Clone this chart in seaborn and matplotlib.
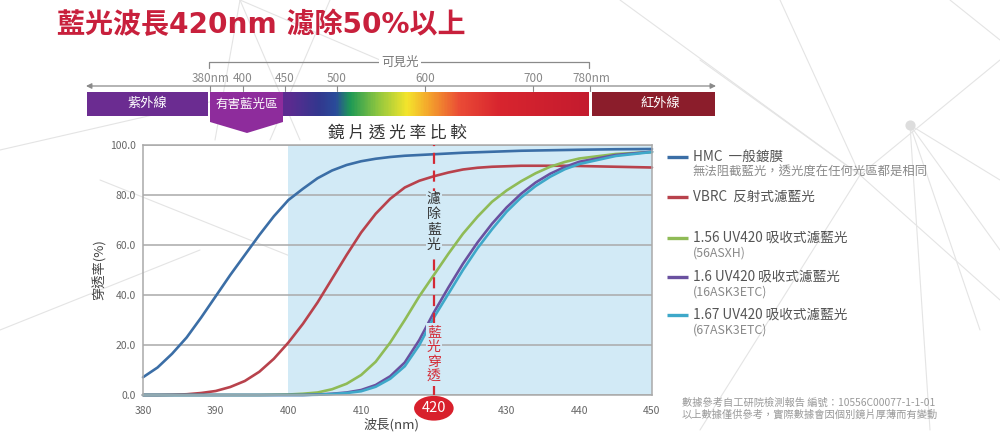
import numpy as np
import pandas as pd
import matplotlib
matplotlib.use("Agg")
import matplotlib.pyplot as plt
import seaborn as sns
from matplotlib.colors import LinearSegmentedColormap
from matplotlib.patches import Polygon

# ---------------- data ----------------
wavelength = [380, 382, 384, 386, 388, 390, 392, 394, 396, 398, 400, 402, 404, 406, 408,
              410, 412, 414, 416, 418, 420, 422, 424, 426, 428, 430, 432, 434, 436, 438,
              440, 445, 450]
hmc = [7.1, 11, 16.5, 23, 31, 39.5, 48, 56, 64, 71.5, 78, 82.5, 86.7, 89.8, 92,
       93.5, 94.5, 95.2, 95.7, 96, 96.3, 96.6, 96.9, 97.1, 97.3, 97.5, 97.7, 97.8, 97.9, 98.0,
       98.1, 98.3, 98.4]
vbrc = [0, 0, 0.1, 0.3, 0.8, 1.6, 3.2, 5.6, 9.3, 14.5, 21, 28.5, 37, 46.5, 56,
        65, 72.5, 78.5, 83, 85.7, 87.5, 89, 90.2, 90.9, 91.3, 91.5, 91.7, 91.7, 91.7, 91.7,
        91.6, 91.3, 91.0]
uv156 = [0, 0, 0, 0, 0, 0, 0, 0, 0, 0.1, 0.2, 0.5, 1, 2.3, 4.5,
         8, 13.3, 21, 30, 39.5, 48, 56.5, 64.5, 71.3, 77.3, 81.8, 85.5, 88.7, 91.3, 93.2,
         94.6, 96.4, 97.2]
uv160 = [0, 0, 0, 0, 0, 0, 0, 0, 0, 0, 0, 0, 0.2, 0.5, 1,
         2, 4, 7.5, 13, 22, 33, 43, 52.5, 61, 68.5, 75, 80.5, 85, 88.5, 91.2,
         93.3, 96, 97.3]
uv167 = [0, 0, 0, 0, 0, 0, 0, 0, 0, 0, 0, 0, 0.1, 0.4, 0.8,
         1.5, 3.3, 6.5, 11.5, 20, 31, 40.5, 50, 58.7, 66.3, 73.3, 79, 83.6, 87.3, 90.3,
         92.4, 95.6, 97.2]

series_names = ["HMC", "VBRC", "UV156", "UV160", "UV167"]
series_values = [hmc, vbrc, uv156, uv160, uv167]
series_colors = ["#3b6ea6", "#b8424c", "#8fbb56", "#6a51a0", "#3ea8c9"]

legend_main = ["HMC  一般鍍膜", "VBRC  反射式濾藍光", "1.56 UV420 吸收式濾藍光",
               "1.6 UV420 吸收式濾藍光", "1.67 UV420 吸收式濾藍光"]
legend_sub = ["無法阻截藍光，透光度在任何光區都是相同", "", "(56ASXH)", "(16ASK3ETC)", "(67ASK3ETC)"]

x_ticks = [380, 390, 400, 410, 420, 430, 440, 450]
y_ticks = [0, 20, 40, 60, 80, 100]

spec_labels = ["380nm", "400", "450", "500", "600", "700", "780nm"]

footer = ["數據參考自工研院檢測報告 編號：10556C00077-1-1-01",
          "以上數據僅供參考，實際數據會因個別鏡片厚薄而有變動"]

# ---------------- style ----------------
sns.set_style("white")
plt.rcParams['font.family'] = ['Noto Sans CJK TC', 'DejaVu Sans']

W, H = 1000, 432
fig = plt.figure(figsize=(W / 100, H / 100), dpi=100)
fig.patch.set_facecolor("white")

# overlay axes in pixel coordinates for decorations
ov = fig.add_axes([0, 0, 1, 1], zorder=0)
ov.set_xlim(0, W)
ov.set_ylim(H, 0)
ov.axis("off")

# faint background network lines
bg_lines = [((240, 0), (215, 140)), ((240, 0), (300, 140)), ((240, 0), (380, 60)),
            ((0, 150), (240, 95)), ((330, 0), (270, 140)), ((620, 0), (860, 175)),
            ((700, 60), (860, 175)), ((860, 175), (1000, 60)), ((860, 175), (700, 430)),
            ((860, 175), (1000, 300)), ((910, 125), (1000, 180)), ((910, 125), (980, 330)),
            ((910, 125), (930, 430)), ((910, 125), (1000, 250)), ((780, 0), (860, 175)),
            ((0, 330), (200, 250)), ((100, 180), (300, 260)), ((950, 0), (1000, 40))]
for (p, q) in bg_lines:
    ov.plot([p[0], q[0]], [p[1], q[1]], color="#e4e4e4", lw=0.8, zorder=0)
ov.scatter([910], [125], s=40, color="#dddddd", zorder=0)

# main title
ov.text(57, 25, "藍光波長420nm 濾除50%以上", color="#c8203c", fontsize=20.2,
        fontweight="bold", ha="left", va="center",
        family=["DejaVu Sans", "Noto Sans CJK TC"])

# spectrum bar
bar_top, bar_bot = 92, 116
ov.fill_between([87, 208], bar_top, bar_bot, color="#6b2c91", lw=0, zorder=2)
ov.fill_between([592, 715], bar_top, bar_bot, color="#8b1d2b", lw=0, zorder=2)
spec_cmap = LinearSegmentedColormap.from_list("spec", [
    (0.0, "#6a2a90"), (0.21, "#5b2b90"), (0.285, "#33378e"), (0.33, "#2a4b9a"),
    (0.37, "#1f9a55"), (0.44, "#8cc540"), (0.52, "#f4e52c"), (0.58, "#f4a22c"),
    (0.66, "#ea4b36"), (0.765, "#d8252f"), (1.0, "#c41b2e")])
ov.imshow(np.linspace(0, 1, 400)[None, :], cmap=spec_cmap, aspect="auto",
          extent=(210, 589, bar_bot, bar_top), zorder=2)
ov.set_xlim(0, W)
ov.set_ylim(H, 0)

ov.text(147, 104, "紫外線", color="white", fontsize=9.5, ha="center", va="center", zorder=3)
ov.text(660, 104, "紅外線", color="white", fontsize=9.5, ha="center", va="center", zorder=3)

# callout
ov.add_patch(Polygon([(210, 92), (283, 92), (283, 122), (247, 133), (210, 122)],
                     closed=True, fc="#8e2c9c", ec="none", zorder=4))
ov.text(247, 104, "有害藍光區", color="white", fontsize=9, ha="center", va="center", zorder=5)

# arrow axis above bar
ov.annotate("", xy=(86, 86), xytext=(716, 86),
            arrowprops=dict(arrowstyle="<|-|>", color="#8a8a8a", lw=0.9,
                            mutation_scale=8, shrinkA=0, shrinkB=0), zorder=2)
spec_pos = [210, 243, 285, 337, 425, 533, 590]
for lab, px in zip(spec_labels, spec_pos):
    ov.plot([px, px], [86, 91], color="#8a8a8a", lw=0.8, zorder=2)
    if lab.endswith("nm"):
        ov.text(px - 18, 79, lab, color="#888888", fontsize=8.5, ha="left", va="center")
    else:
        ov.text(px, 79, lab, color="#888888", fontsize=8.5, ha="center", va="center")

# visible light bracket
ov.plot([209, 209, 589, 589], [68, 62, 62, 68], color="#8a8a8a", lw=0.9, zorder=2)
ov.text(400, 62, "可見光", color="#777777", fontsize=9, ha="center", va="center",
        bbox=dict(fc="white", ec="none", pad=1.5), zorder=3)

# chart subtitle
ov.text(397, 133, "鏡 片 透 光 率 比 較", color="#333333", fontsize=12, ha="center", va="center")

# legend (manual)
leg_y = [157, 197, 238, 277, 315]
for col, main, sub, y in zip(series_colors, legend_main, legend_sub, leg_y):
    ov.plot([667, 688], [y, y], color=col, lw=2.4, solid_capstyle="butt")
    ov.text(693, y, main, color="#555555", fontsize=9.8, ha="left", va="center")
    if sub:
        ov.text(693, y + 15, sub, color="#8a8a8a", fontsize=8.9, ha="left", va="center")

# footer
ov.text(682, 403, footer[0], color="#999999", fontsize=7.35, ha="left", va="center")
ov.text(682, 415, footer[1], color="#999999", fontsize=7.35, ha="left", va="center")

# ---------------- main chart ----------------
ax = fig.add_axes([143 / W, 1 - 395 / H, 509 / W, 250 / H], zorder=2)
ax.patch.set_alpha(0)

df = pd.DataFrame({
    "wl": np.tile(wavelength, len(series_names)),
    "val": np.concatenate(series_values),
    "series": np.repeat(series_names, len(wavelength)),
})

ax.axvspan(400, 450, color="#d2eaf6", lw=0, zorder=0.3)
sns.lineplot(data=df, x="wl", y="val", hue="series", hue_order=series_names,
             palette=series_colors, linewidth=1.9, legend=False, ax=ax, zorder=2)
for ln in ax.lines:
    ln.set_clip_on(False)
    ln.set_solid_joinstyle("round")

ax.set_xlim(380, 450)
ax.set_ylim(0, 100)
ax.set_xticks(x_ticks)
ax.set_xticklabels([("" if t == 420 else str(t)) for t in x_ticks])
ax.set_yticks(y_ticks)
ax.set_yticklabels([f"{v:.1f}" for v in y_ticks])
ax.tick_params(axis="x", length=3, width=0.8, color="#aaaaaa", pad=5,
               labelsize=7.5, labelcolor="#666666")
ax.tick_params(axis="y", length=0, pad=5, labelsize=7.5, labelcolor="#666666")
ax.set_axisbelow(True)
ax.yaxis.grid(True, color="#aaaaaa", lw=1.1)
ax.xaxis.grid(False)
for sp in ax.spines.values():
    sp.set_color("#aaaaaa")
    sp.set_linewidth(1.1)
ax.set_xlabel("")
ax.set_ylabel("")

# 420 marker line and labels
ax.axvline(420, color="#d42a35", lw=1.6, linestyle=(0, (5, 3)), zorder=3)
ax.text(420, 69.2, "濾\n除\n藍\n光", color="#333333", fontsize=10, ha="center",
        va="center", linespacing=1.1, zorder=4,
        bbox=dict(fc="#d2eaf6", ec="none", pad=1.0))
ax.text(420, 16.2, "藍\n光\n穿\n透", color="#d42a35", fontsize=10, ha="center",
        va="center", linespacing=1.1, zorder=4,
        bbox=dict(fc="#d2eaf6", ec="none", pad=1.0))
ax.text(420, -5.3, "420", color="white", fontsize=10.5, ha="center", va="center",
        clip_on=False, zorder=5,
        bbox=dict(boxstyle="ellipse,pad=0.12", fc="#d8202c", ec="none"))

ov.text(392, 425, "波長(nm)", color="#444444", fontsize=9.5, ha="center", va="center")
ov.text(100, 270, "穿透率(%)", color="#444444", fontsize=9.5, ha="center", va="center",
        rotation=90)

fig.savefig("out.png", dpi=100, facecolor="white")
